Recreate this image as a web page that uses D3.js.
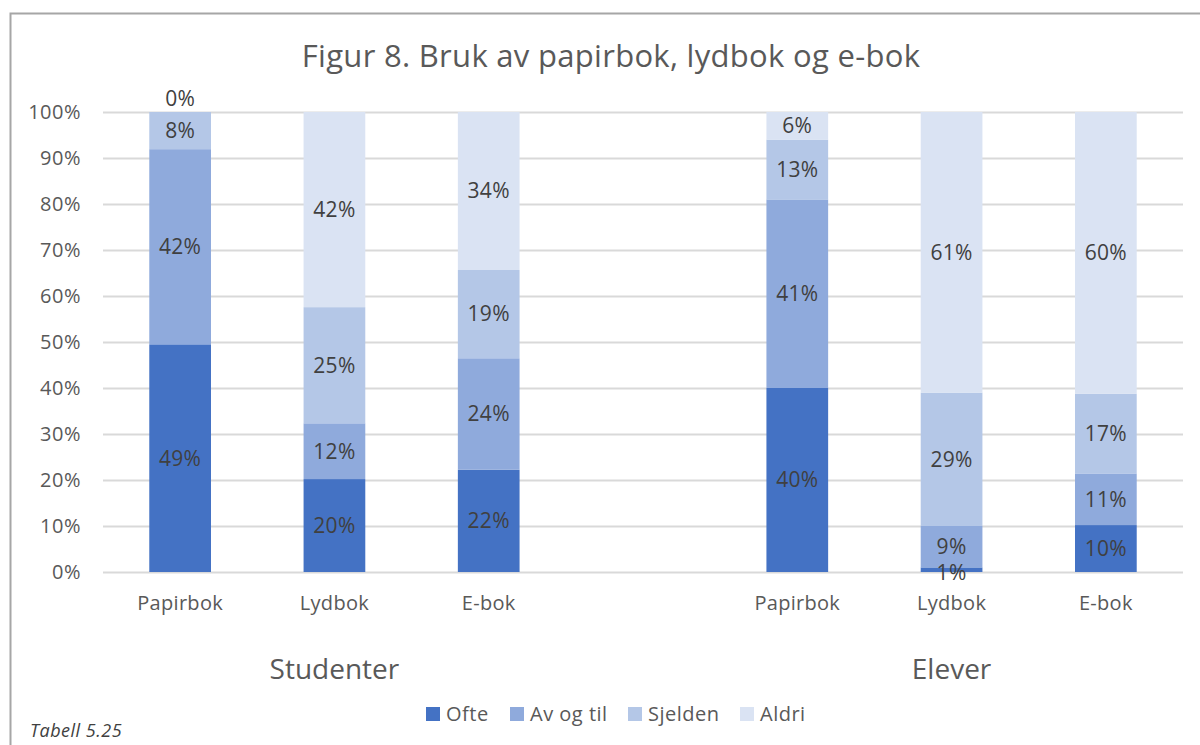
<!DOCTYPE html>
<html>
<head>
<meta charset="utf-8">
<script src="https://cdn.jsdelivr.net/npm/d3@7"></script>
<style>
  body { margin: 0; background: #fff; }
  svg { font-family: "Open Sans", sans-serif; }
</style>
</head>
<body>
<svg class="chart" width="1200" height="745"></svg>
<script>
var groups = ["Studenter", "Elever"];
var books = ["Papirbok", "Lydbok", "E-bok"];
var series = ["Ofte", "Av og til", "Sjelden", "Aldri"];
var colors = ["#4472C4", "#8FAADC", "#B4C7E7", "#DAE3F3"];
var yTicks = [0, 0.1, 0.2, 0.3, 0.4, 0.5, 0.6, 0.7, 0.8, 0.9, 1];

// percent per book, in series order
var studenter = [[49, 42, 8, 0], [20, 12, 25, 42], [22, 24, 19, 34]];
var elever = [[40, 41, 13, 6], [1, 9, 29, 61], [10, 11, 17, 60]];

var rows = [];
[studenter, elever].forEach(function (vals, gi) {
  vals.forEach(function (v, bi) {
    var row = { key: groups[gi] + "|" + books[bi], group: groups[gi], book: books[bi] };
    series.forEach(function (s, si) { row[s] = v[si]; });
    rows.push(row);
  });
});

var svg = d3.select("svg.chart"),
    margin = {top: 112, right: 17, bottom: 173, left: 103},
    width = +svg.attr("width") - margin.left - margin.right,
    height = +svg.attr("height") - margin.top - margin.bottom,
    g = svg.append("g").attr("transform", "translate(" + margin.left + "," + margin.top + ")");

// frame (only top and left edges are inside the picture)
svg.append("path")
    .attr("d", "M10.5,745 V13.5 H1200")
    .attr("fill", "none")
    .attr("stroke", "#a6a6a6")
    .attr("stroke-width", 2);

// 7 slots: 3 bars, an empty one, 3 bars
var slots = rows.slice(0, 3).map(function (d) { return d.key; })
    .concat(["gap"])
    .concat(rows.slice(3).map(function (d) { return d.key; }));

var x = d3.scaleBand()
    .domain(slots)
    .range([0, width])
    .paddingInner(0.6)
    .paddingOuter(0.3);

var y = d3.scaleLinear()
    .domain([0, 1])
    .range([height, 0]);

var stack = d3.stack().keys(series).offset(d3.stackOffsetExpand);
var stacked = stack(rows);

// gridlines
g.append("g")
  .selectAll("line")
  .data(yTicks)
  .enter().append("line")
    .attr("x1", 0)
    .attr("x2", width)
    .attr("y1", function (d) { return Math.round(y(d)) + 0.5; })
    .attr("y2", function (d) { return Math.round(y(d)) + 0.5; })
    .attr("stroke", "#d9d9d9")
    .attr("stroke-width", 2);

// y axis labels
var yAxis = g.append("g")
    .attr("class", "axis axis--y")
    .call(d3.axisLeft(y).tickValues(yTicks).tickFormat(d3.format(".0%")).tickSize(0).tickPadding(22));
yAxis.select(".domain").remove();
yAxis.selectAll("text")
    .attr("fill", "#595959")
    .style("font-size", "20px")
    .style("letter-spacing", "0.5px")
    .style("font-family", "Open Sans");

// bars
var layer = g.selectAll(".layer")
  .data(stacked)
  .enter().append("g")
    .attr("class", "layer")
    .attr("fill", function (d, i) { return colors[i]; });

layer.selectAll("rect")
  .data(function (d) { return d; })
  .enter().append("rect")
    .attr("x", function (d) { return x(d.data.key); })
    .attr("width", x.bandwidth())
    .attr("y", function (d) { return y(d[1]); })
    .attr("height", function (d) { return y(d[0]) - y(d[1]); });

// data labels, drawn after all bars
var labels = g.append("g");
stacked.forEach(function (s) {
  var key = s.key;
  labels.append("g").selectAll("text")
    .data(s)
    .enter().append("text")
      .attr("x", function (d) { return x(d.data.key) + x.bandwidth() / 2; })
      .attr("y", function (d) {
        var mid = (y(d[0]) + y(d[1])) / 2;
        if (d.data[key] === 0) mid -= 13;
        if (d.data[key] === 1) mid += 3;
        return mid;
      })
      .attr("dy", "0.35em")
      .attr("text-anchor", "middle")
      .attr("fill", "#404040")
      .style("font-size", "21px")
      .style("letter-spacing", "0.3px")
      .text(function (d) { return d.data[key] + "%"; });
});

// book labels
g.append("g")
  .selectAll("text")
  .data(rows)
  .enter().append("text")
    .attr("x", function (d) { return x(d.key) + x.bandwidth() / 2; })
    .attr("y", height + 38)
    .attr("text-anchor", "middle")
    .attr("fill", "#595959")
    .style("font-size", "20px")
    .style("letter-spacing", "0.3px")
    .text(function (d) { return d.book; });

// group labels
g.append("g")
  .selectAll("text")
  .data(groups)
  .enter().append("text")
    .attr("x", function (d, i) {
      var ks = rows.filter(function (r) { return r.group === d; }).map(function (r) { return r.key; });
      return (x(ks[0]) + x(ks[ks.length - 1]) + x.bandwidth()) / 2;
    })
    .attr("y", height + 107)
    .attr("text-anchor", "middle")
    .attr("fill", "#595959")
    .style("font-size", "28px")
    .text(function (d) { return d; });

// title
svg.append("text")
    .attr("x", 611)
    .attr("y", 67)
    .attr("text-anchor", "middle")
    .attr("fill", "#595959")
    .style("font-size", "31px")
    .style("letter-spacing", "0.3px")
    .text("Figur 8. Bruk av papirbok, lydbok og e-bok");

// legend
var legendX = [426, 510, 628, 740];
var legend = svg.append("g")
  .selectAll("g")
  .data(series)
  .enter().append("g")
    .attr("transform", function (d, i) { return "translate(" + legendX[i] + ",707)"; });
legend.append("rect")
    .attr("width", 14)
    .attr("height", 14)
    .attr("fill", function (d, i) { return colors[i]; });
legend.append("text")
    .attr("x", 20)
    .attr("y", 7)
    .attr("dy", "0.35em")
    .attr("fill", "#595959")
    .style("font-size", "20px")
    .style("letter-spacing", "0.5px")
    .text(function (d) { return d; });

svg.append("text")
    .attr("x", 30)
    .attr("y", 737)
    .attr("fill", "#404040")
    .style("font-size", "18px")
    .style("font-style", "italic")
    .style("letter-spacing", "0.5px")
    .text("Tabell 5.25");
</script>
</body>
</html>
